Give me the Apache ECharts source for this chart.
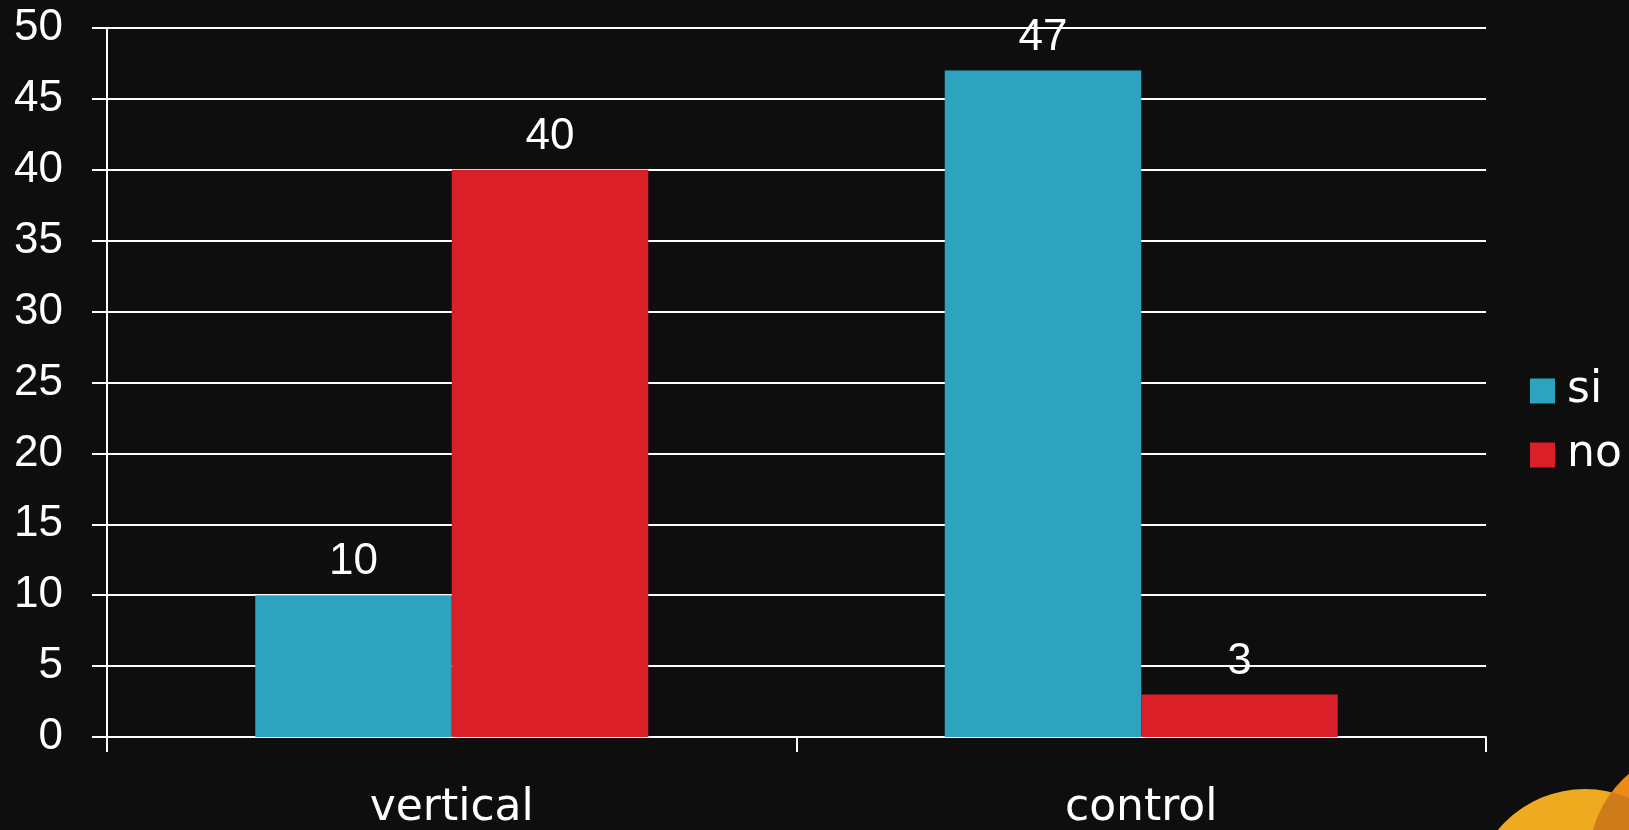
<!DOCTYPE html>
<html>
<head>
<meta charset="utf-8">
<script src="https://cdn.jsdelivr.net/npm/echarts@6/dist/echarts.min.js"></script>
<style>
html,body{margin:0;padding:0;background:#0e0e0e;}
#chart{width:1629px;height:830px;}
</style>
</head>
<body>
<div id="chart"></div>
<script>
const categories = ['vertical', 'control'];
const seriesNames = ['si', 'no'];
const siValues = [10, 47];
const noValues = [40, 3];
const yTicks = { min: 0, max: 50, interval: 5 };

const colors = { si: '#2DA3BF', no: '#DA1F28' };
const numFont = 'Liberation Sans';
const textFont = 'DejaVu Sans';

const chart = echarts.init(document.getElementById('chart'), null, { renderer: 'canvas' });

// decorative overlap polygon between two circles
function circleIntersectionPolygon(c1, r1, c2, r2, steps) {
  const inside = (p, c, r) => Math.hypot(p[0]-c[0], p[1]-c[1]) <= r;
  const arc = (c, r, oc, or) => {
    const arr = [];
    for (let i = 0; i < steps; i++) {
      const a = (i / steps) * Math.PI * 2;
      const p = [c[0] + r * Math.cos(a), c[1] + r * Math.sin(a)];
      arr.push({ a, p, in: inside(p, oc, or) });
    }
    return arr;
  };
  const a1 = arc(c1, r1, c2, r2).filter(o => o.in);
  const a2 = arc(c2, r2, c1, r1).filter(o => o.in);
  const sortArc = (arr, c, oc) => {
    const base = Math.atan2(oc[1]-c[1], oc[0]-c[0]);
    return arr.map(o => {
      let d = o.a - base;
      while (d > Math.PI) d -= 2*Math.PI;
      while (d < -Math.PI) d += 2*Math.PI;
      return { d, p: o.p };
    }).sort((x, y) => x.d - y.d).map(o => o.p);
  };
  return sortArc(a1, c1, c2).concat(sortArc(a2, c2, c1));
}

const yc = [1585, 902], yr = 113;
const oc = [1702, 860], or = 113;

const option = {
  backgroundColor: '#0e0e0e',
  animation: false,
  grid: { left: 107, right: 143, top: 28, bottom: 93, containLabel: false, outerBoundsMode: 'none' },
  legend: {
    orient: 'vertical',
    left: 1530,
    top: 369,
    padding: 0,
    itemWidth: 25,
    itemHeight: 25,
    itemGap: 20,
    icon: 'rect',
    data: seriesNames,
    textStyle: { color: '#ffffff', fontFamily: textFont, fontSize: 44, padding: [0, 0, 0, 7] }
  },
  xAxis: {
    type: 'category',
    data: categories,
    boundaryGap: true,
    axisLine: { show: true, lineStyle: { color: '#ffffff', width: 2 } },
    axisTick: { show: true, length: 15, lineStyle: { color: '#ffffff', width: 2 } },
    axisLabel: { color: '#ffffff', fontFamily: textFont, fontSize: 44, margin: 50 },
    splitLine: { show: false }
  },
  yAxis: {
    type: 'value',
    min: yTicks.min,
    max: yTicks.max,
    interval: yTicks.interval,
    axisLine: { show: true, lineStyle: { color: '#ffffff', width: 2 } },
    axisTick: { show: true, length: 15, lineStyle: { color: '#ffffff', width: 2 } },
    axisLabel: { color: '#ffffff', fontFamily: numFont, fontSize: 44, margin: 44 },
    splitLine: { show: true, lineStyle: { color: '#ffffff', width: 2 } }
  },
  series: [
    {
      name: 'si', type: 'bar', data: siValues,
      barGap: '0%', barCategoryGap: '43%',
      itemStyle: { color: colors.si },
      label: { show: true, position: 'top', distance: 11, color: '#ffffff', fontFamily: numFont, fontSize: 44 }
    },
    {
      name: 'no', type: 'bar', data: noValues,
      barGap: '0%', barCategoryGap: '43%',
      itemStyle: { color: colors.no },
      label: { show: true, position: 'top', distance: 11, color: '#ffffff', fontFamily: numFont, fontSize: 44 }
    }
  ],
  graphic: [
    { type: 'circle', shape: { cx: yc[0], cy: yc[1], r: yr }, style: { fill: '#F0AA1F' }, silent: true, z: -1 },
    { type: 'circle', shape: { cx: oc[0], cy: oc[1], r: or }, style: { fill: '#EC8A18' }, silent: true, z: -1 },
    { type: 'polygon', shape: { points: circleIntersectionPolygon(yc, yr, oc, or, 720) }, style: { fill: '#CE7B19' }, silent: true, z: -1 }
  ]
};
chart.setOption(option);
</script>
</body>
</html>
